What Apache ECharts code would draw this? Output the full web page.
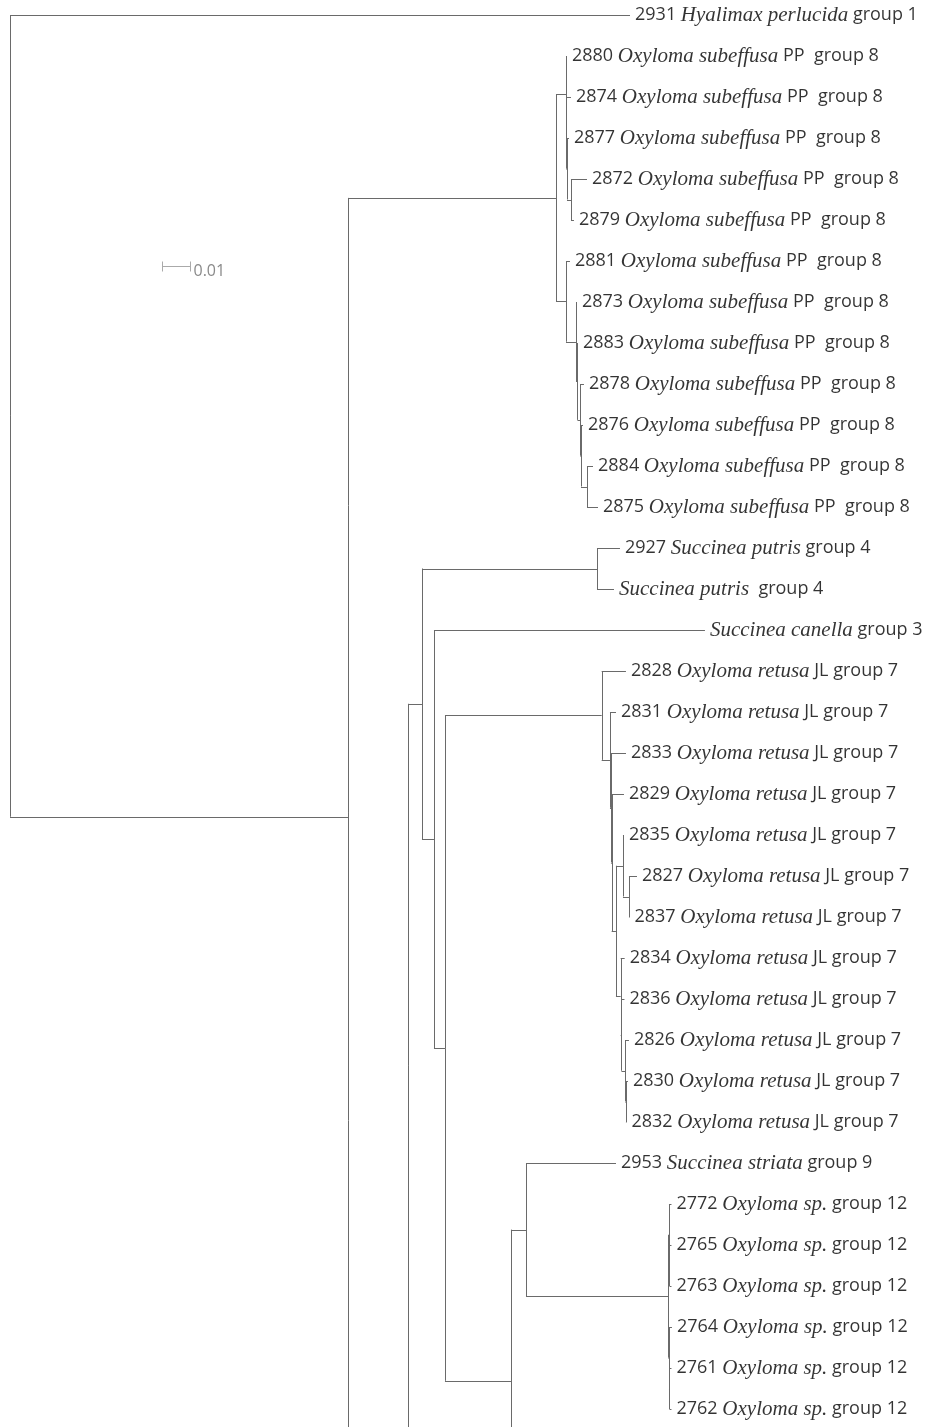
<!DOCTYPE html>
<html>
<head>
<meta charset="utf-8">
<script src="https://cdn.jsdelivr.net/npm/echarts@6/dist/echarts.min.js"></script>
<style>
html,body{margin:0;padding:0;background:#fff;}
#chart{width:928px;height:1427px;}
</style>
</head>
<body>
<div id="chart"></div>
<script>
// ---- DATA ----
// Tree topology with branch lengths (substitutions/site), Newick format.
// "#k" marks a clade that continues below the picture and spans k rows.
const treeNewick =
 "(2931:0.22383,(" +
   "((2880:0.00036,(2874:0.00162,(2877:0.00072,(2872:0.00578,2879:0.00108):0.00144):0.00018):0.00018):0.00361," +
    "(2881:0.00144,(2873:0.00036,(2883:0.00018,(2878:0.00126,(2876:0.00072,(2884:0.00217,2875:0.00397):0.00217):0.00018):0.00108):0.00054):0.00361):0.00361" +
   "):0.07509," +
   "(" +
    "((2927:0.0083,putris:0.00614):0.06318," +
     "(canella:0.09783," +
      "((2828:0.00877,(2831:0.00217,(2833:0.00542,(2829:0.00444,((2835:0.00036,(2827:0.00289,2837:0.00018):0.00217):0.00253,(2834:0.00144,(2836:0.00108,(2826:0.00126,(2830:0.00072,2832:0.00018):0.00018):0.00144):0.00029):0.0017):0.00155):0.00025):0.00036):0.003):0.05657," +
       "((2953:0.03249,((2772:0.0009,(2765:0.00072,2763:0.00072):0.00018):0.00018,(2764:0.00108,(2761:0.00072,2762:0.00072):0.00018):0.00018):0.05144):0.00542,#5:0.01):0.02383" +
      "):0.00397" +
     "):0.00433" +
    "):0.00505," +
    "#26:0.01" +
   "):0.02166" +
 "):0.12202);";

// Leaf labels: key, specimen number, taxon (italic), tail
const leafKeys   = ['2931','2880','2874','2877','2872','2879','2881','2873','2883','2878','2876','2884','2875',
                    '2927','putris','canella',
                    '2828','2831','2833','2829','2835','2827','2837','2834','2836','2826','2830','2832',
                    '2953','2772','2765','2763','2764','2761','2762'];
const leafNumbers = ['2931','2880','2874','2877','2872','2879','2881','2873','2883','2878','2876','2884','2875',
                    '2927','','',
                    '2828','2831','2833','2829','2835','2827','2837','2834','2836','2826','2830','2832',
                    '2953','2772','2765','2763','2764','2761','2762'];
const leafTaxa = ['Hyalimax perlucida'].concat(
  Array(12).fill('Oxyloma subeffusa'),
  ['Succinea putris','Succinea putris','Succinea canella'],
  Array(12).fill('Oxyloma retusa'),
  ['Succinea striata'],
  Array(6).fill('Oxyloma sp.'));
const leafTails = ['group 1'].concat(
  Array(12).fill('PP  group 8'),
  ['group 4',' group 4','group 3'],
  Array(12).fill('JL group 7'),
  ['group 9'],
  Array(6).fill('group 12'));

// Scale bar: start (substitutions), row position, length, label
const scaleStart = 0.0549;
const scaleRow = 6.12;
const scaleLength = 0.01;
const scaleLabel = '0.01';

// ---- PARSE & LAYOUT ----
function parseNewick(str){
  const s = str.replace(/\s+/g,'');
  let i = 0;
  function node(){
    const nd = {children:[]};
    if (s[i] === '('){
      i++;
      nd.children.push(node());
      while (s[i] === ','){ i++; nd.children.push(node()); }
      i++; // ')'
    }
    let name = '';
    while (i < s.length && !':,();'.includes(s[i])) name += s[i++];
    nd.name = name;
    nd.len = 0;
    if (s[i] === ':'){
      i++;
      let b = '';
      while (i < s.length && !',();'.includes(s[i])) b += s[i++];
      nd.len = parseFloat(b);
    }
    return nd;
  }
  return node();
}

const root = parseNewick(treeNewick);
let rowCounter = 0;
function layout(nd, x0){
  nd.x = x0 + nd.len;
  if (nd.children.length){
    nd.children.forEach(c => layout(c, nd.x));
    nd.y = (nd.children[0].y + nd.children[nd.children.length-1].y)/2;
  } else if (nd.name.charAt(0) === '#'){
    const k = parseInt(nd.name.slice(1),10);
    nd.y = rowCounter + (k-1)/2;
    rowCounter += k;
    nd.hidden = true;
  } else {
    nd.y = rowCounter++;
  }
}
layout(root, 0);

const segments = [];
const leaves = [];
function collect(nd, parent){
  if (parent) segments.push([parent.x, nd.y, nd.x, nd.y]);
  if (nd.children.length){
    const f = nd.children[0], l = nd.children[nd.children.length-1];
    segments.push([nd.x, f.y, nd.x, l.y]);
    nd.children.forEach(c => collect(c, nd));
  } else if (!nd.hidden){
    const idx = leafKeys.indexOf(nd.name);
    leaves.push([nd.x, nd.y, idx]);
  }
}
collect(root, null);

// ---- CHART ----
const PX_PER_UNIT = 2770;
const PX_PER_ROW = 41;
const GRID_TOP = 15;
const X_MAX = 0.33;
const Y_MAX = (1427 - GRID_TOP) / PX_PER_ROW;

const chart = echarts.init(document.getElementById('chart'), null, {renderer:'canvas'});

const rich = {
  n: {fontFamily:'Open Sans', fontSize:18, color:'#000'},
  i: {fontFamily:'Liberation Serif', fontStyle:'italic', fontSize:21, color:'#000'}
};

chart.setOption({
  animation:false,
  backgroundColor:'#ffffff',
  grid:{left:10, top:GRID_TOP, bottom:0, width:X_MAX*PX_PER_UNIT, containLabel:false},
  xAxis:{type:'value', min:0, max:X_MAX, show:false},
  yAxis:{type:'value', min:0, max:Y_MAX, inverse:true, show:false},
  series:[
    {
      type:'custom',
      name:'branches',
      coordinateSystem:'cartesian2d',
      clip:false,
      silent:true,
      encode:{x:[0,2], y:[1,3]},
      data:segments,
      renderItem:function(params, api){
        const p1 = api.coord([api.value(0), api.value(1)]);
        const p2 = api.coord([api.value(2), api.value(3)]);
        const vertical = Math.abs(p1[0]-p2[0]) < 0.01;
        let x1 = p1[0], x2 = p2[0], y1 = p1[1], y2 = p2[1];
        if (vertical){ x1 = x2 = Math.round(x1)+0.5; }
        else { y1 = y2 = Math.round(y1)+0.5; }
        return {type:'line', shape:{x1:x1,y1:y1,x2:x2,y2:y2},
                style:{stroke:'#6a6a6a', lineWidth:1}};
      }
    },
    {
      type:'scatter',
      name:'tips',
      symbolSize:0,
      silent:true,
      clip:false,
      data:leaves,
      label:{
        show:true,
        position:'right',
        distance:5,
        color:'#000',
        textBorderWidth:0,
        formatter:function(p){
          const k = p.value[2];
          const num = leafNumbers[k];
          return (num ? '{n|' + num + ' }' : '') + '{i|' + leafTaxa[k] + '}' + '{n| ' + leafTails[k] + '}';
        },
        rich:rich
      }
    },
    {
      type:'custom',
      name:'scale',
      coordinateSystem:'cartesian2d',
      silent:true,
      data:[[scaleStart, scaleRow, scaleStart+scaleLength]],
      renderItem:function(params, api){
        const a = api.coord([api.value(0), api.value(1)]);
        const b = api.coord([api.value(2), api.value(1)]);
        const y = Math.round(a[1])+0.5;
        const xa = Math.round(a[0])+0.5, xb = Math.round(b[0])+0.5;
        return {type:'group', children:[
          {type:'line', shape:{x1:xa,y1:y,x2:xb,y2:y}, style:{stroke:'#aaaaaa', lineWidth:1}},
          {type:'line', shape:{x1:xa,y1:y-5,x2:xa,y2:y+5}, style:{stroke:'#aaaaaa', lineWidth:1}},
          {type:'line', shape:{x1:xb,y1:y-5,x2:xb,y2:y+5}, style:{stroke:'#aaaaaa', lineWidth:1}},
          {type:'text', style:{x:xb+3, y:y+5, text:scaleLabel, fill:'#8a8a8a',
             font:'16px "Open Sans"', verticalAlign:'middle', align:'left'}}
        ]};
      }
    }
  ]
});
</script>
</body>
</html>
